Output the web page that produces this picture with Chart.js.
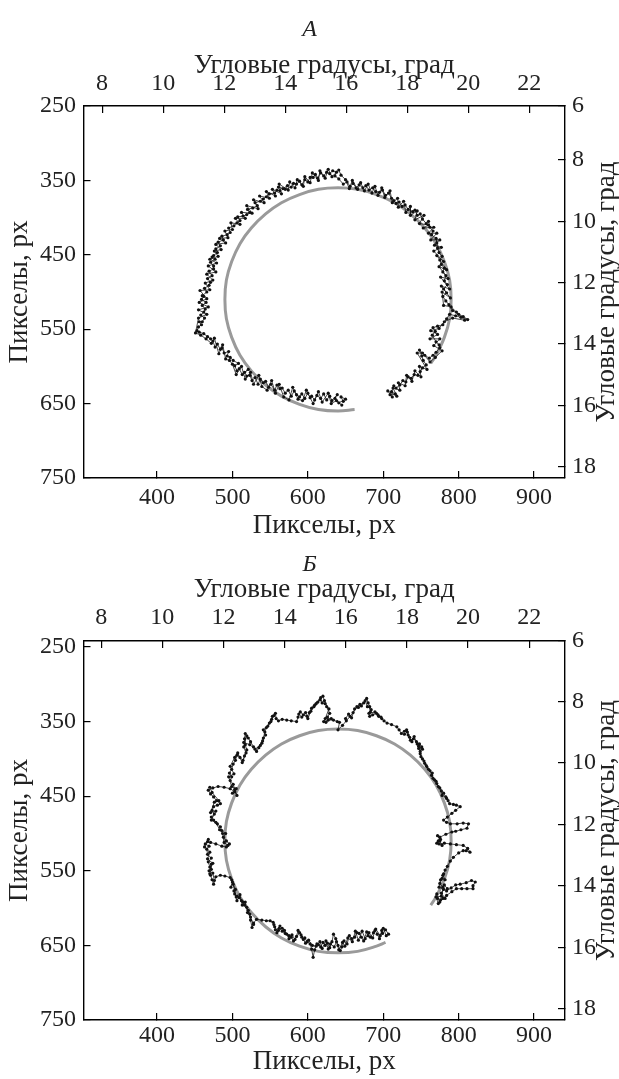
<!DOCTYPE html>
<html>
<head>
<meta charset="utf-8">
<script src="https://cdn.jsdelivr.net/npm/chart.js@4"></script>
<style>
  body { margin: 0; background: #fff; }
  .panel { position: absolute; left: 0; width: 619px; }
  #wrapA { top: 0; height: 550px; }
  #wrapB { top: 536px; height: 543px; }
</style>
</head>
<body>
<div class="panel" id="wrapA"><canvas id="chartA"></canvas></div>
<div class="panel" id="wrapB"><canvas id="chartB"></canvas></div>
<script>
// tick labels
var pxTicksX = [400, 500, 600, 700, 800, 900];
var pxTicksY = [250, 350, 450, 550, 650, 750];
var degTicksX = [8, 10, 12, 14, 16, 18, 20, 22];
var degTicksY = [6, 8, 10, 12, 14, 16, 18];

// target circle (px)
var circleA = [[662,658],[640,660],[614,658],[589,651],[565,640],[544,625],[525,606],[510,585],[499,561],[492,536],[490,510],[492,484],[499,459],[510,435],[525,414],[544,395],[565,380],[589,369],[614,362],[640,360],[666,362],[691,369],[715,380],[736,395],[755,414],[770,435],[781,459],[788,484],[790,510],[788,536],[781,561],[770,585],[763,596]];
var circleB = [[703,646],[691,651],[666,658],[640,660],[614,658],[589,651],[565,640],[544,625],[525,606],[510,585],[499,561],[492,536],[490,510],[492,484],[499,459],[510,435],[525,414],[544,395],[565,380],[589,369],[614,362],[640,360],[666,362],[691,369],[715,380],[736,395],[755,414],[770,435],[781,459],[788,484],[790,510],[788,536],[781,561],[770,585],[763,596]];

// gaze paths (px)
var pathA = [[647,647],[644,641],[650,644],[641,649],[636,643],[639,638],[632,646],[629,640],[625,645],[621,637],[617,643],[612,639],[609,645],[605,640],[603,642],[600,636],[596,643],[592,637],[589,641],[585,638],[582,633],[578,640],[574,632],[570,636],[566,629],[563,630],[559,625],[556,632],[551,624],[548,628],[544,620],[541,622],[537,617],[534,624],[530,615],[526,619],[523,612],[519,613],[516,608],[521,604],[513,611],[509,603],[506,606],[503,599],[508,596],[501,592],[497,588],[493,586],[495,580],[489,582],[486,575],[484,577],[480,570],[477,574],[474,566],[471,563],[467,560],[462,556],[456,554],[453,552],[455,547],[459,544],[456,540],[460,540],[463,535],[458,531],[462,527],[464,523],[460,518],[465,514],[459,510],[462,506],[460,505],[466,500],[463,495],[469,491],[471,487],[467,482],[473,478],[469,472],[475,469],[475,465],[471,460],[477,456],[473,453],[475,451],[480,447],[478,442],[484,438],[481,433],[488,430],[486,425],[493,423],[497,420],[495,414],[502,411],[506,407],[510,404],[507,399],[514,398],[519,396],[523,393],[520,389],[527,387],[533,384],[530,380],[537,378],[541,375],[545,372],[549,368],[556,367],[559,363],[563,364],[561,359],[567,361],[573,357],[570,362],[578,359],[581,354],[585,355],[589,351],[592,356],[596,349],[600,352],[603,346],[607,346],[610,342],[613,347],[617,340],[621,344],[625,339],[629,341],[633,337],[638,339],[636,344],[641,348],[647,355],[652,352],[656,358],[660,354],[664,360],[668,356],[673,360],[677,357],[681,363],[686,360],[690,365],[695,366],[699,363],[703,370],[707,367],[711,374],[714,377],[717,381],[721,379],[725,385],[729,383],[733,389],[739,392],[742,390],[745,397],[749,395],[752,402],[757,408],[760,405],[762,413],[766,418],[764,423],[770,428],[771,434],[772,441],[774,447],[778,452],[775,457],[777,463],[781,468],[779,473],[783,478],[781,485],[785,490],[780,496],[784,501],[779,506],[783,512],[787,517],[792,525],[800,530],[806,533],[812,537],[803,534],[796,532],[788,530],[784,536],[779,544],[772,546],[766,548],[769,553],[765,558],[770,567],[774,571],[775,575],[770,581],[766,585],[761,589],[755,585],[748,578],[751,586],[753,592],[757,598],[752,602],[749,607],[746,612],[741,611],[737,616],[733,614],[730,621],[726,619],[722,625],[717,629],[714,626],[711,634],[716,637],[709,638]];

var pathB = [[707,635],[703,629],[699,634],[698,630],[695,641],[692,635],[689,630],[687,633],[683,639],[680,637],[678,632],[674,644],[671,639],[668,634],[665,633],[662,639],[658,641],[655,637],[652,648],[648,644],[645,652],[643,657],[640,650],[637,641],[634,635],[632,645],[629,653],[626,647],[623,650],[620,646],[617,652],[614,649],[612,648],[609,656],[607,666],[605,655],[603,648],[599,645],[596,640],[594,642],[591,636],[587,630],[585,638],[581,644],[578,639],[575,641],[572,635],[569,630],[566,627],[563,624],[561,630],[559,633],[556,625],[554,619],[550,617],[545,617],[539,616],[532,615],[528,620],[526,626],[524,616],[523,608],[521,603],[519,599],[516,596],[514,592],[512,590],[509,586],[506,584],[503,581],[504,575],[501,568],[499,562],[497,559],[490,557],[484,556],[478,558],[475,568],[473,562],[471,556],[470,554],[472,548],[472,541],[470,545],[468,538],[472,533],[467,528],[466,521],[469,517],[464,514],[467,511],[471,512],[478,514],[486,517],[492,518],[496,514],[492,510],[488,505],[491,500],[486,496],[484,491],[480,487],[475,482],[472,478],[476,474],[473,469],[475,464],[480,462],[484,460],[479,456],[475,451],[471,447],[468,442],[474,439],[481,437],[489,438],[497,440],[503,444],[506,449],[503,441],[501,434],[497,429],[499,424],[496,419],[499,414],[501,407],[504,402],[506,395],[510,398],[514,402],[516,396],[519,388],[517,381],[516,373],[517,366],[521,372],[524,377],[528,384],[532,390],[535,385],[539,379],[541,372],[543,364],[545,358],[549,352],[552,347],[555,342],[557,339],[558,346],[561,349],[566,347],[572,348],[578,349],[585,350],[587,344],[590,337],[594,341],[599,343],[602,338],[605,332],[609,328],[613,324],[616,321],[620,316],[622,322],[625,330],[629,339],[626,344],[621,350],[627,348],[634,348],[639,350],[642,351],[640,361],[646,355],[651,349],[656,343],[660,338],[665,330],[669,327],[674,325],[678,319],[680,325],[682,330],[683,337],[682,343],[686,341],[691,339],[694,343],[698,346],[701,349],[705,352],[711,354],[718,357],[721,361],[724,366],[728,363],[731,361],[733,368],[736,375],[740,373],[744,377],[748,380],[751,384],[749,390],[749,393],[752,400],[755,406],[758,411],[762,416],[764,422],[768,428],[771,433],[775,439],[780,446],[784,453],[788,460],[793,461],[797,462],[802,464],[796,469],[791,473],[785,478],[780,482],[784,485],[789,487],[798,487],[806,486],[813,487],[811,493],[803,495],[796,497],[791,498],[783,501],[775,505],[773,510],[774,514],[781,513],[789,514],[797,515],[806,516],[812,520],[815,525],[810,523],[806,523],[800,526],[793,532],[789,537],[785,544],[782,549],[780,554],[778,560],[775,567],[779,572],[784,577],[790,573],[796,569],[802,568],[810,566],[817,563],[822,565],[819,570],[819,574],[811,574],[804,574],[797,574],[791,578],[784,583],[779,587],[775,592],[772,587],[771,581]];

// extra gaze samples inside the fixation clumps (px); null = separate clump
var clumpA = [[645,652],[638,646],[631,650],[627,636],[619,648],[614,634],[607,650],[598,632],[593,646],[587,644],[580,628],[575,645],[568,641],[562,624],[557,636],[552,619],[546,632],[539,627],[535,612],[528,624],[524,608],[517,617],[512,600],[505,611],[500,597],[496,592],[491,590],[487,571],[482,583],[476,562],[472,569],[465,563],[458,558],[451,555],[455,535],[466,530],[455,524],[468,520],[456,514],[466,509],[457,498],[470,497],[464,488],[474,484],[466,476],[478,473],[468,465],[479,461],[470,456],[481,452],[476,445],[485,443],[478,436],[491,434],[483,428],[494,427],[490,418],[500,416],[498,407],[510,409],[504,401],[517,401],[512,393],[526,394],[519,384],[534,388],[528,376],[542,380],[536,371],[549,374],[545,365],[557,371],[553,362],[565,368],[562,355],[574,363],[576,352],[583,360],[586,349],[594,358],[596,345],[603,353],[606,340],[614,350],[616,337],[623,347],[627,335],[632,345],[641,336],[644,343],[650,349],[655,361],[659,350],[666,362],[670,353],[675,364],[680,355],[685,367],[689,358],[693,370],[698,360],[702,373],[709,364],[712,380],[719,374],[720,386],[727,378],[730,393],[736,385],[736,397],[745,391],[742,403],[754,397],[748,408],[760,410],[753,414],[767,413],[760,421],[771,421],[763,430],[775,430],[768,437],[777,440],[767,445],[780,459],[771,451],[784,470],[774,466],[786,482],[776,480],[788,496],[777,492],[789,508],[778,500],[780,518],[790,520],[797,527],[808,538],[792,535],[781,540],[774,549],[763,552],[772,557],[762,563],[775,563],[767,572],[778,579],[769,588],[762,594],[752,582],[745,582],[758,604],[748,600],[750,614],[742,606],[738,620],[731,612],[729,626],[720,622],[722,632],[713,629],[718,640],[706,633],[712,641]];

var clumpB = [[704,637],[700,627],[696,637],[690,628],[686,640],[681,633],[676,641],[672,631],[667,643],[663,631],[659,645],[653,640],[649,651],[646,646],[641,656],[638,645],[635,652],[630,648],[627,655],[624,644],[619,654],[616,645],[611,651],[606,650],[601,643],[597,647],[592,639],[589,633],[583,642],[579,636],[575,637],[570,634],[566,631],[562,627],[557,629],[555,622],null,[528,622],[524,612],[520,606],[517,592],[513,596],[510,582],[506,590],[502,577],[505,585],[500,565],[498,572],null,[476,563],[474,553],[469,550],[474,540],[467,534],[470,525],[463,518],[468,508],null,[494,516],[489,512],[487,500],[483,495],[478,485],[472,482],[478,470],[471,472],[476,458],[482,456],[473,445],[470,438],null,[500,446],[505,440],[499,437],[495,424],[502,420],[497,410],[503,398],[507,392],[513,405],[518,392],[515,384],[519,369],[515,378],[523,381],[530,387],[537,382],[540,376],[544,368],[541,361],[547,356],[551,350],[553,343],null,[588,340],[592,344],[597,338],[600,346],[604,336],[608,330],[611,326],[617,318],[619,325],[623,326],[628,333],[623,346],[631,346],[624,351],null,[650,346],[654,340],[658,345],[662,333],[667,331],[671,329],[676,322],[679,330],[684,334],[681,339],[689,337],[693,341],[697,344],null,[728,367],[732,364],[735,371],[738,377],[741,370],[745,380],[747,386],[752,387],[747,383],[750,397],[754,403],[757,409],[760,414],[765,419],[766,426],[770,430],[773,437],[777,443],[778,449],[783,451],[786,456],null,[772,503],[776,508],[771,513],[778,516],[775,510],null,[779,556],[782,562],[776,562],[774,572],[780,575],[777,580],[782,587],[776,589],[773,594],[770,585],[777,584],[781,569],[785,574]];

var FONT = "'Liberation Serif', 'Times New Roman', serif";
var INK = '#222';

function toXY(list) {
  return list.map(function (p) { return p ? { x: p[0], y: p[1] } : { x: null, y: null }; });
}

function sized(dim, size) {
  return function (scale) {
    scale[dim] = size;
    scale.paddingLeft = scale.paddingRight = scale.paddingTop = scale.paddingBottom = 0;
  };
}

function setTicks(list) {
  return function (scale) {
    scale.ticks = list.map(function (v) {
      var lo = Math.min(scale.min, scale.max), hi = Math.max(scale.min, scale.max);
      return { value: Math.min(Math.max(v, lo), hi) };
    });
  };
}

var rightTitle = {
  id: 'rightTitle',
  afterDraw: function (chart) {
    var s = chart.scales.yDeg, ctx = chart.ctx;
    ctx.save();
    ctx.translate(607, (s.top + s.bottom) / 2);
    ctx.rotate(-Math.PI / 2);
    ctx.font = '27px ' + FONT;
    ctx.fillStyle = INK;
    ctx.textAlign = 'center';
    ctx.textBaseline = 'middle';
    ctx.fillText('Угловые градусы, град', 0, 0);
    ctx.restore();
  }
};

function axisLine() {
  return {
    grid: { display: true, drawOnChartArea: false, drawTicks: true, tickLength: -7, color: '#000', lineWidth: 1.2 },
    border: { display: true, color: '#000', width: 1.4 }
  };
}

function gazeSet(list) {
  return {
    data: toXY(list),
    showLine: true,
    spanGaps: false,
    borderColor: '#1a1a1a',
    borderWidth: 0.8,
    pointRadius: 1.6,
    pointBackgroundColor: '#111',
    pointBorderWidth: 0,
    xAxisID: 'x',
    yAxisID: 'y'
  };
}

function makeChart(id, cfg) {
  var gx = axisLine(), gy = axisLine(), tx = axisLine(), ty = axisLine();
  return new Chart(document.getElementById(id), {
    type: 'scatter',
    data: {
      datasets: [gazeSet(cfg.path), gazeSet(cfg.clump), {
        data: toXY(cfg.circle),
        showLine: true,
        borderColor: '#9a9a9a',
        borderWidth: 3,
        tension: 0.4,
        pointRadius: 0,
        xAxisID: 'x',
        yAxisID: 'y'
      }]
    },
    options: {
      animation: false,
      responsive: true,
      maintainAspectRatio: false,
      devicePixelRatio: 1,
      layout: { padding: 0 },
      plugins: {
        legend: { display: false },
        tooltip: { enabled: false },
        title: {
          display: true,
          text: cfg.letter,
          color: INK,
          font: { family: FONT, size: 24, style: 'italic', weight: 'normal', lineHeight: 1 },
          padding: { top: cfg.letterPad, bottom: 0 }
        }
      },
      scales: {
        x: Object.assign(gx, {
          type: 'linear', position: 'bottom', min: 302.5, max: 941,
          afterBuildTicks: setTicks(pxTicksX),
          afterFit: sized('height', cfg.bottomH),
          ticks: { autoSkip: false, maxRotation: 0, padding: cfg.bottomTickPad, color: INK, font: { family: FONT, size: 24 } },
          title: { display: true, text: 'Пикселы, px', color: INK, font: { family: FONT, size: 27, lineHeight: 1 }, padding: { top: 0, bottom: cfg.bottomTitlePad } }
        }),
        y: Object.assign(gy, {
          type: 'linear', position: 'left', reverse: true, min: cfg.yMin, max: 750,
          afterBuildTicks: setTicks(pxTicksY),
          afterFit: sized('width', 83.5),
          ticks: { autoSkip: false, padding: 14.5, color: INK, font: { family: FONT, size: 24 } },
          title: { display: true, text: 'Пикселы, px', color: INK, font: { family: FONT, size: 27, lineHeight: 1 }, padding: { top: 6.5, bottom: 0 } }
        }),
        xDeg: Object.assign(tx, {
          type: 'linear', position: 'top', min: cfg.degXMin, max: 23.17,
          afterBuildTicks: setTicks(degTicksX),
          afterFit: sized('height', cfg.topH),
          ticks: { autoSkip: false, maxRotation: 0, padding: cfg.topTickPad, color: INK, font: { family: FONT, size: 24 } },
          title: { display: true, text: 'Угловые градусы, град', color: INK, font: { family: FONT, size: 27, lineHeight: 1 }, padding: { top: cfg.topTitlePad, bottom: 0 } }
        }),
        yDeg: Object.assign(ty, {
          type: 'linear', position: 'right', reverse: true, min: cfg.degYMin, max: 18.37,
          afterBuildTicks: setTicks(degTicksY),
          afterFit: sized('width', 54),
          ticks: { autoSkip: false, padding: 14, color: INK, font: { family: FONT, size: 24 },
                   callback: function (v) { return Math.round(v); } }
        })
      }
    },
    plugins: [rightTitle]
  });
}

makeChart('chartA', {
  letter: 'А', letterPad: 18, path: pathA, clump: clumpA, circle: circleA,
  yMin: 250, degYMin: 6.24, degXMin: 7.39,
  topH: 64, topTitlePad: 10.5, topTickPad: 14.6,
  bottomH: 72, bottomTickPad: 12.6, bottomTitlePad: 10.5
});

makeChart('chartB', {
  letter: 'Б', letterPad: 17, path: pathB, clump: clumpB, circle: circleB,
  yMin: 242, degYMin: 6.03, degXMin: 7.42,
  topH: 64, topTitlePad: -1, topTickPad: 15.6,
  bottomH: 59, bottomTickPad: 8.6, bottomTitlePad: 3.5
});
</script>
</body>
</html>
